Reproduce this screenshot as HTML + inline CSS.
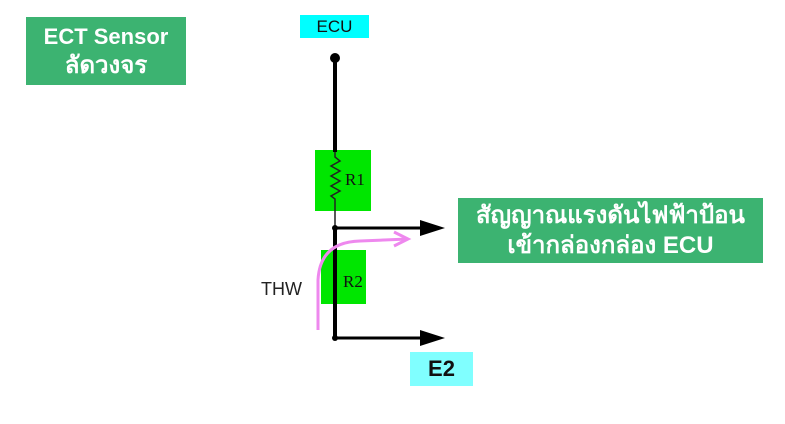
<!DOCTYPE html>
<html><head><meta charset="utf-8"><style>
body{margin:0;width:785px;height:424px;background:#fff;position:relative;overflow:hidden;font-family:"Liberation Sans","DejaVu Sans",sans-serif}
.b{position:absolute;display:flex;flex-direction:column;align-items:center;justify-content:center;text-align:center}
</style></head><body>
<div class="b" style="left:26px;top:17px;width:160px;height:68px;background:#3cb371;color:#fff;font-weight:bold;font-size:22px;line-height:29px">ECT Sensor<br><span style="font-size:24px">ลัดวงจร</span></div>
<div class="b" style="left:300px;top:15px;width:69px;height:23px;background:#00ffff;color:#111;font-size:17px">ECU</div>
<div class="b" style="left:458px;top:198px;width:305px;height:65px;background:#3cb371;color:#fff;font-weight:bold;font-size:24px;line-height:30px">สัญญาณแรงดันไฟฟ้าป้อน<br>เข้ากล่องกล่อง ECU</div>
<div class="b" style="left:410px;top:352px;width:63px;height:34px;background:#80ffff;color:#111;font-weight:bold;font-size:22px">E2</div>
<div style="position:absolute;left:315px;top:150px;width:56px;height:61px;background:#00e600"></div>
<div style="position:absolute;left:321px;top:250px;width:45px;height:54px;background:#00e600"></div>
<svg width="785" height="424" style="position:absolute;left:0;top:0">
<line x1="335" y1="58" x2="335" y2="152" stroke="#000" stroke-width="4"/>
<circle cx="335" cy="58" r="5" fill="#000"/>
<polyline points="335,152 335,157 340,161 331,166 340,171 331,176 340,181 331,186 340,191 331,196 335,199 335,228" fill="none" stroke="#222" stroke-width="1.5"/>
<line x1="335" y1="228" x2="335" y2="340" stroke="#000" stroke-width="4"/>
<line x1="335" y1="228" x2="422" y2="228" stroke="#000" stroke-width="3"/>
<polygon points="420,220 445,228 420,236" fill="#000"/>
<line x1="335" y1="338" x2="422" y2="338" stroke="#000" stroke-width="3"/>
<polygon points="420,330 445,338 420,346" fill="#000"/>
<circle cx="335" cy="228" r="3" fill="#000"/>
<circle cx="335" cy="338" r="3" fill="#000"/>
<path d="M318,330 L318,280 Q320,242 360,241 L408,239" fill="none" stroke="#ee88ee" stroke-width="3"/>
<path d="M394,232 L408,239 L394,246" fill="none" stroke="#ee88ee" stroke-width="3"/>
<text x="345" y="185" font-family="Liberation Serif,serif" font-size="17" fill="#111">R1</text>
<text x="343" y="287" font-family="Liberation Serif,serif" font-size="17" fill="#111">R2</text>
<text x="261" y="295" font-size="18" fill="#222">THW</text>
</svg>
</body></html>
